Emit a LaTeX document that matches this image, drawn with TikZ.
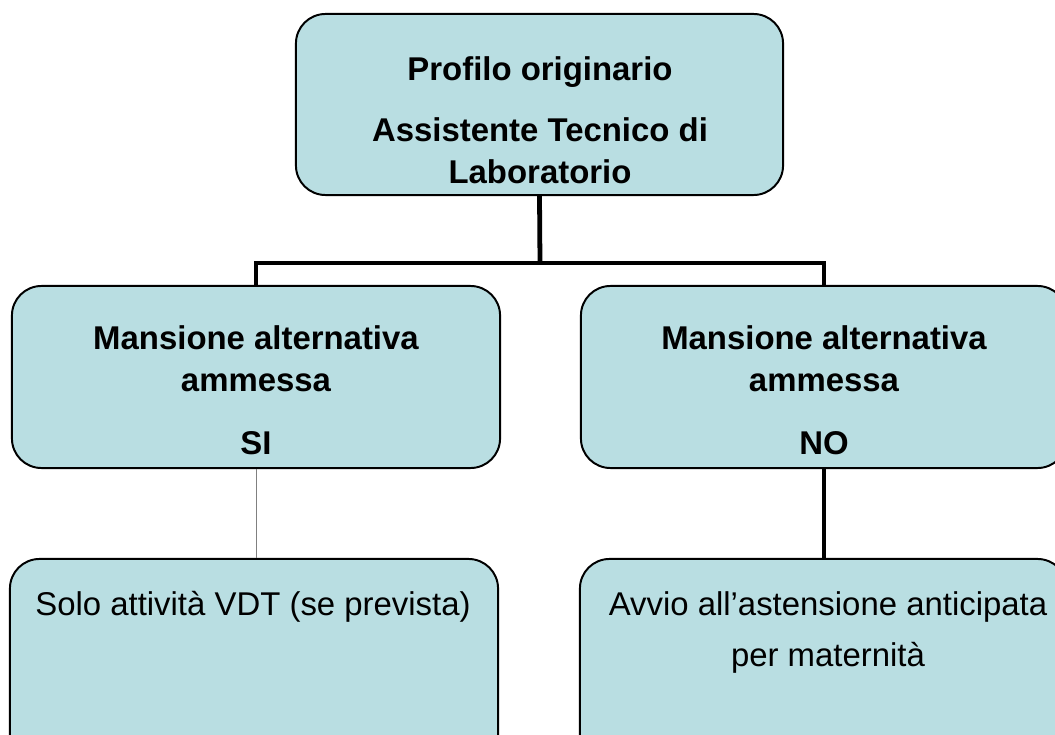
\documentclass[tikz,border=0pt]{standalone}
\usepackage{fontspec}
\setmainfont{Liberation Sans}
\usepackage{tikz}
\usetikzlibrary{calc}
\definecolor{boxfill}{RGB}{185,222,226}
\tikzset{
  box/.style={draw=black, line width=1.4pt, fill=boxfill, rounded corners=21pt, inner sep=0pt},
  boldtxt/.style={align=center, inner sep=0pt, font=\fontsize{23.4}{29.8}\selectfont\bfseries},
  plaintxt/.style={align=center, inner sep=0pt, font=\fontsize{23.4}{29.8}\selectfont},
  thickline/.style={black, line width=3.4pt},
  thinline/.style={black!50, line width=0.7pt}
}

\begin{document}
\begin{tikzpicture}[x=0.025cm, y=-0.025cm]
  \useasboundingbox (0,0) rectangle (1055,735);
  % boxes
  \node (top) at (539.5,104.5)[box, minimum width=12.175cm, minimum height=4.525cm]{};
  \node (yes) at (256,377)[box, minimum width=12.2cm, minimum height=4.55cm]{};
  \node (no) at (824,377)[box, minimum width=12.15cm, minimum height=4.55cm]{};
  \node (solo) at (254,669)[box, minimum width=12.2cm, minimum height=5.5cm]{};
  \node (avvio) at (823.5,669)[box, minimum width=12.175cm, minimum height=5.5cm]{};
  % texts
  \node (toptxt) at (540,120)[boldtxt]{Profilo originario\\[14pt]Assistente Tecnico di\\Laboratorio};
  \node (yestxt) at (256,390.5)[boldtxt]{Mansione alternativa\\ammessa\\[15pt]SI};
  \node (notxt) at (824,390.5)[boldtxt]{Mansione alternativa\\ammessa\\[15pt]NO};
  \node (solotxt) at (253,615)[plaintxt, anchor=base]{Solo attività VDT (se prevista)};
  \node (avviotxt) at (828,632.5)[plaintxt]{Avvio all’astensione anticipata\\[7pt]per maternità};
  % connectors
  \coordinate (fork) at (540,263);
  \draw [thickline] (top.south) -- (fork);
  \draw [thickline] (yes.north) |- (fork) -| (no.north);
  \draw [thinline] (yes.south) -- (yes.south |- solo.north);
  \draw [thickline] (no.south) -- (no.south |- avvio.north);
\end{tikzpicture}
\end{document}
